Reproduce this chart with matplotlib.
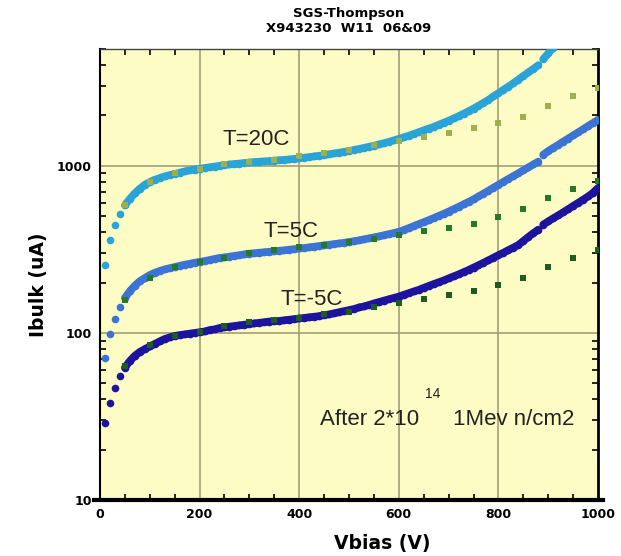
import numpy as np
import matplotlib.pyplot as plt
from matplotlib import ticker

# bulk current vs bias, three temperatures, dense sweep + 50 V square points
v_dense_20 = list(range(10, 911, 10))
i_20c = [255, 360, 444, 515, 580, 635, 685, 730, 770, 800,
         825, 845, 865, 880, 895, 910, 925, 940, 950, 960,
         970, 980, 990, 1000, 1010, 1018, 1025, 1032, 1040, 1047,
         1053, 1058, 1063, 1068, 1075, 1080, 1085, 1092, 1100, 1108,
         1118, 1128, 1138, 1148, 1160, 1172, 1185, 1198, 1212, 1226,
         1245, 1262, 1280, 1300, 1320, 1342, 1365, 1390, 1420, 1450,
         1480, 1515, 1550, 1590, 1630, 1670, 1710, 1760, 1810, 1860,
         1920, 1980, 2050, 2120, 2200, 2290, 2380, 2480, 2600, 2720,
         2850, 2980, 3120, 3280, 3450, 3620, 3800, 4000, 4350, 4700,
         5100]

v_dense = list(range(10, 1001, 10))
i_5c = [71, 99, 121, 142, 162, 178, 192, 204, 213, 222,
        229, 235, 240, 244, 248, 252, 256, 259, 263, 266,
        269, 273, 277, 281, 283, 286, 289, 292, 295, 298,
        300, 302, 304, 306, 308, 310, 312, 315, 317, 320,
        322, 325, 328, 331, 334, 337, 340, 343, 346, 350,
        354, 358, 363, 368, 373, 378, 384, 390, 396, 403,
        413, 424, 436, 448, 460, 473, 487, 501, 516, 532,
        550, 568, 588, 608, 630, 655, 682, 710, 740, 770,
        802, 835, 868, 902, 940, 978, 1018, 1060, 1165, 1225,
        1280, 1335, 1395, 1455, 1520, 1585, 1655, 1730, 1805, 1884]

i_m5c = [29, 38, 47, 55, 62, 68, 73, 77, 80, 83,
         86, 89, 92, 94, 96, 97, 98, 99, 100, 101,
         102, 104, 105, 107, 108, 109, 110, 111, 112, 113,
         114, 115, 116, 117, 117.5, 118, 119, 120, 121, 122,
         123, 124, 125, 126, 128, 129, 131, 133, 135, 137,
         139, 142, 144, 147, 150, 153, 156, 159, 162, 165,
         169, 173, 177, 181, 186, 191, 196, 201, 206, 212,
         218, 224, 231, 238, 246, 254, 263, 272, 282, 292,
         302, 313, 324, 336, 355, 375, 395, 415, 445, 465,
         485, 505, 527, 550, 575, 600, 627, 655, 690, 738]

v_sq = list(range(50, 1001, 50))
sq_20c = [580, 802, 908, 960, 1030, 1057, 1087, 1148, 1200, 1250,
          1337, 1412, 1494, 1578, 1690, 1808, 1963, 2285, 2625, 2931]
sq_5c = [158, 213, 248, 266, 281, 301, 314, 327, 336, 350,
         366, 386, 408, 425, 450, 496, 553, 643, 728, 813]
sq_m5c = [63, 85, 96, 101, 110, 116, 120, 123, 130, 134,
          143, 151, 160, 169, 178, 194, 213, 248, 281, 314]

fig = plt.figure(figsize=(6.21, 5.56), dpi=100)
ax = fig.add_axes([0.161, 0.1007, 0.802, 0.8112])
ax.set_facecolor('#fdfcc4')


def dense(v, i, col):
    # dots everywhere, a thick band once the sweep flattens (split at the 880 V step)
    ax.plot(v, i, 'o', color=col, ms=5.5, mew=0, zorder=3)
    k0 = v.index(50)
    k1 = v.index(880) + 1
    ax.plot(v[k0:k1], i[k0:k1], '-', color=col, lw=5.5,
            solid_capstyle='round', zorder=3)
    ax.plot(v[k1:], i[k1:], '-', color=col, lw=5.5,
            solid_capstyle='round', zorder=3)


grid_c = '#a39f78'
dense(v_dense_20, i_20c, '#2aa3d6')
dense(v_dense, i_5c, '#3b74d4')
dense(v_dense, i_m5c, '#1c149e')
ax.plot(v_sq, sq_20c, 's', color='#9cb050', ms=5, mew=0, zorder=4)
ax.plot(v_sq, sq_5c, 's', color='#26782a', ms=5, mew=0, zorder=4)
ax.plot(v_sq, sq_m5c, 's', color='#1e5c22', ms=5, mew=0, zorder=4)

ax.set_yscale('log')
ax.set_xlim(0, 1000)
ax.set_ylim(10, 5000)

ax.set_xticks([0, 200, 400, 600, 800, 1000])
ax.xaxis.set_minor_locator(ticker.MultipleLocator(50))
ax.set_yticks([10, 100, 1000])
ax.yaxis.set_major_formatter(ticker.FixedFormatter(['10', '100', '1000']))
ax.yaxis.set_minor_formatter(ticker.NullFormatter())
ax.tick_params(which='both', direction='in', top=True, right=True,
               labelsize=9, width=1.2)
ax.tick_params(which='major', length=0, pad=6)
ax.tick_params(which='minor', length=4)
for lab in ax.get_xticklabels() + ax.get_yticklabels():
    lab.set_fontweight('bold')

for x in [200, 400, 600, 800]:
    ax.axvline(x, color=grid_c, lw=1.2, zorder=1)
for y in [100, 1000]:
    ax.axhline(y, color=grid_c, lw=1.2, zorder=1)

ax.spines['bottom'].set_linewidth(3)
ax.spines['bottom'].set_bounds(-12, 1010)
ax.spines['left'].set_linewidth(1.5)
ax.spines['right'].set_linewidth(2)
ax.spines['top'].set_linewidth(1)
ax.spines['top'].set_color('#444444')

ax.set_xlabel('Vbias (V)', fontsize=13.5, fontweight='bold')
ax.xaxis.set_label_coords(0.566, -0.075)
ax.set_ylabel('Ibulk (uA)', fontsize=13.5, fontweight='bold')
ax.yaxis.set_label_coords(-0.105, 0.477)

tfont = dict(family='Liberation Sans', color='#222222')
ax.text(245, 1337, 'T=20C', fontsize=16, **tfont)
ax.text(328, 376, 'T=5C', fontsize=16, **tfont)
ax.text(362, 147, 'T=-5C', fontsize=16, **tfont)
ax.text(442, 28.1, 'After 2*10', fontsize=16, **tfont)
ax.text(653, 40.8, '14', fontsize=10, **tfont)
ax.text(708, 28.1, '1Mev n/cm2', fontsize=16, **tfont)

fig.text(0.562, 0.988, 'SGS-Thompson', ha='center', va='top',
         fontsize=9.5, fontweight='bold')
fig.text(0.562, 0.961, 'X943230  W11  06&09', ha='center', va='top',
         fontsize=9.5, fontweight='bold')

fig.savefig('out.png', dpi=100)
